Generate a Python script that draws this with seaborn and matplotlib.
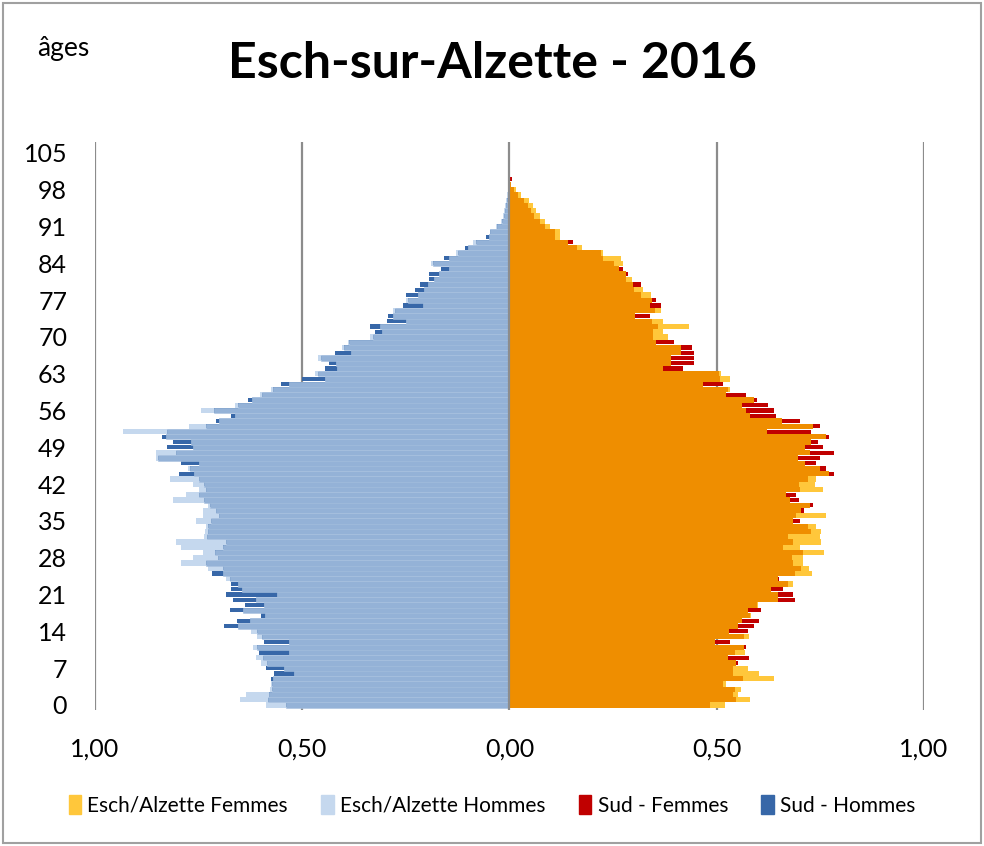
import numpy as np
import pandas as pd
import matplotlib
matplotlib.use("Agg")
import matplotlib.pyplot as plt
from matplotlib.patches import Patch, Rectangle
import seaborn as sns

# Pyramide des âges Esch-sur-Alzette / Sud, 2016 (parts en %)
ages = list(range(101))

esch_hommes = [0.587, 0.651, 0.635, 0.578, 0.576, 0.570, 0.521, 0.545, 0.600, 0.611,
               0.531, 0.618, 0.533, 0.609, 0.623, 0.655, 0.625, 0.589, 0.643, 0.593,
               0.611, 0.560, 0.645, 0.655, 0.685, 0.690, 0.728, 0.792, 0.764, 0.740,
               0.792, 0.804, 0.736, 0.735, 0.733, 0.756, 0.740, 0.740, 0.728, 0.812,
               0.780, 0.748, 0.764, 0.820, 0.760, 0.775, 0.750, 0.852, 0.852, 0.764,
               0.768, 0.828, 0.933, 0.772, 0.701, 0.663, 0.744, 0.662, 0.621, 0.602,
               0.575, 0.531, 0.445, 0.468, 0.417, 0.418, 0.463, 0.383, 0.405, 0.390,
               0.336, 0.307, 0.313, 0.249, 0.281, 0.280, 0.209, 0.249, 0.221, 0.205,
               0.197, 0.181, 0.169, 0.146, 0.190, 0.146, 0.128, 0.100, 0.088, 0.049,
               0.048, 0.032, 0.020, 0.016, 0.012, 0.010, 0.008, 0.006, 0.004, 0.002,
               0.001]
sud_hommes = [0.539, 0.583, 0.579, 0.572, 0.572, 0.575, 0.567, 0.587, 0.585, 0.595,
              0.605, 0.610, 0.591, 0.596, 0.608, 0.689, 0.657, 0.599, 0.675, 0.639,
              0.666, 0.685, 0.671, 0.671, 0.675, 0.718, 0.690, 0.732, 0.704, 0.710,
              0.692, 0.683, 0.730, 0.728, 0.728, 0.720, 0.700, 0.708, 0.722, 0.736,
              0.748, 0.733, 0.736, 0.748, 0.798, 0.770, 0.792, 0.848, 0.804, 0.826,
              0.812, 0.839, 0.827, 0.732, 0.708, 0.672, 0.712, 0.656, 0.631, 0.596,
              0.570, 0.551, 0.500, 0.462, 0.446, 0.436, 0.455, 0.422, 0.400, 0.387,
              0.330, 0.325, 0.336, 0.296, 0.292, 0.276, 0.257, 0.245, 0.249, 0.227,
              0.217, 0.193, 0.195, 0.166, 0.185, 0.158, 0.125, 0.108, 0.080, 0.057,
              0.046, 0.030, 0.018, 0.014, 0.010, 0.008, 0.006, 0.004, 0.003, 0.002,
              0.001]
esch_femmes = [0.519, 0.581, 0.551, 0.559, 0.523, 0.639, 0.603, 0.575, 0.547, 0.527,
               0.569, 0.567, 0.497, 0.577, 0.529, 0.551, 0.561, 0.583, 0.575, 0.600,
               0.647, 0.647, 0.631, 0.683, 0.647, 0.731, 0.723, 0.708, 0.708, 0.758,
               0.700, 0.752, 0.748, 0.752, 0.740, 0.683, 0.764, 0.704, 0.724, 0.677,
               0.667, 0.756, 0.736, 0.740, 0.771, 0.750, 0.714, 0.696, 0.724, 0.714,
               0.728, 0.764, 0.621, 0.732, 0.658, 0.581, 0.571, 0.561, 0.591, 0.523,
               0.531, 0.468, 0.533, 0.510, 0.370, 0.390, 0.390, 0.414, 0.414, 0.354,
               0.382, 0.370, 0.434, 0.370, 0.304, 0.366, 0.339, 0.345, 0.342, 0.322,
               0.298, 0.296, 0.280, 0.265, 0.273, 0.270, 0.225, 0.175, 0.141, 0.122,
               0.121, 0.097, 0.085, 0.073, 0.064, 0.056, 0.048, 0.028, 0.016, 0.004,
               0.002]
sud_femmes = [0.483, 0.547, 0.539, 0.543, 0.515, 0.563, 0.539, 0.539, 0.551, 0.578,
              0.543, 0.570, 0.531, 0.567, 0.575, 0.591, 0.601, 0.580, 0.607, 0.598,
              0.688, 0.683, 0.659, 0.671, 0.651, 0.688, 0.703, 0.684, 0.682, 0.708,
              0.660, 0.683, 0.671, 0.728, 0.720, 0.701, 0.692, 0.710, 0.732, 0.698,
              0.691, 0.700, 0.698, 0.720, 0.782, 0.764, 0.740, 0.748, 0.784, 0.756,
              0.744, 0.772, 0.728, 0.748, 0.700, 0.642, 0.639, 0.623, 0.598, 0.571,
              0.528, 0.516, 0.507, 0.505, 0.418, 0.446, 0.446, 0.446, 0.440, 0.398,
              0.347, 0.347, 0.358, 0.344, 0.338, 0.350, 0.366, 0.354, 0.318, 0.300,
              0.318, 0.280, 0.285, 0.275, 0.253, 0.225, 0.222, 0.163, 0.154, 0.110,
              0.109, 0.085, 0.073, 0.060, 0.052, 0.044, 0.035, 0.020, 0.012, 0.003,
              0.006]

y_ticks = list(range(0, 106, 7))
x_ticks = [-1.0, -0.5, 0.0, 0.5, 1.0]
x_labels = ["1,00", "0,50", "0,00", "0,50", "1,00"]

c_esch_f = "#FFC73B"
c_sud_f = "#C00000"
c_mix_f = "#EF8E00"
c_esch_h = "#C5D8EE"
c_sud_h = "#3767A8"
c_mix_h = "#94B2D7"

df = pd.DataFrame({"age": ages,
                   "esch_h": esch_hommes, "sud_h": sud_hommes,
                   "esch_f": esch_femmes, "sud_f": sud_femmes})
df["mix_h"] = np.minimum(df["esch_h"], df["sud_h"])
df["mix_f"] = np.minimum(df["esch_f"], df["sud_f"])

sns.set_theme(style="white")
plt.rcParams["font.family"] = ["Lato", "DejaVu Sans"]
plt.rcParams["text.color"] = "black"

fig = plt.figure(figsize=(9.84, 8.46), dpi=100)
ax = fig.add_axes([0.0965, 0.1608, 0.8425, 0.6714])


def couche(col, sign, color, width, **kw):
    sns.barplot(x=sign * df[col], y=df["age"], orient="y", native_scale=True,
                color=color, saturation=1, width=width, errorbar=None,
                ax=ax, zorder=2, **kw)


couche("esch_h", -1, c_esch_h, 1.0, linewidth=0)
couche("sud_h", -1, c_sud_h, 0.8, linewidth=0)
couche("esch_f", 1, c_esch_f, 1.0, linewidth=0)
couche("sud_f", 1, c_sud_f, 0.8, linewidth=0)
couche("mix_h", -1, c_mix_h, 1.0, linewidth=0.4, edgecolor="#A9C2E0")
couche("mix_f", 1, c_mix_f, 1.0, linewidth=0)

ax.set_xlim(-1.0, 1.0)
ax.set_ylim(-0.95, 107.1)
ax.set_xticks(x_ticks)
ax.set_xticklabels(x_labels)
ax.set_yticks(y_ticks)
ax.set_yticklabels([str(v) for v in y_ticks])
ax.set_xlabel("")
ax.set_ylabel("")
ax.tick_params(axis="both", length=0, labelsize=18, colors="black")
ax.tick_params(axis="y", pad=20)
ax.tick_params(axis="x", pad=20)
for s in ax.spines.values():
    s.set_visible(False)
for xv in x_ticks:
    ax.axvline(xv, color="#8C8C8C", lw=1.6, zorder=1 if xv != 0 else 5)

fig.text(0.5, 0.925, "Esch-sur-Alzette - 2016", ha="center", va="center",
         fontsize=36, fontweight="bold", color="black")
fig.text(0.038, 0.943, "âges", ha="left", va="center", fontsize=19, color="black")

handles = [Patch(color=c_esch_f, label="Esch/Alzette Femmes"),
           Patch(color=c_esch_h, label="Esch/Alzette Hommes"),
           Patch(color=c_sud_f, label="Sud - Femmes"),
           Patch(color=c_sud_h, label="Sud - Hommes")]
fig.legend(handles=handles, loc="center", bbox_to_anchor=(0.5, 0.048), ncol=4,
           frameon=False, fontsize=15, handlelength=0.6, handleheight=1.0,
           handletextpad=0.3, columnspacing=1.6)

fig.add_artist(Rectangle((0.003, 0.003), 0.994, 0.994, transform=fig.transFigure,
                         fill=False, edgecolor="#A0A0A0", lw=1.5))

fig.savefig("out.png", dpi=100)
